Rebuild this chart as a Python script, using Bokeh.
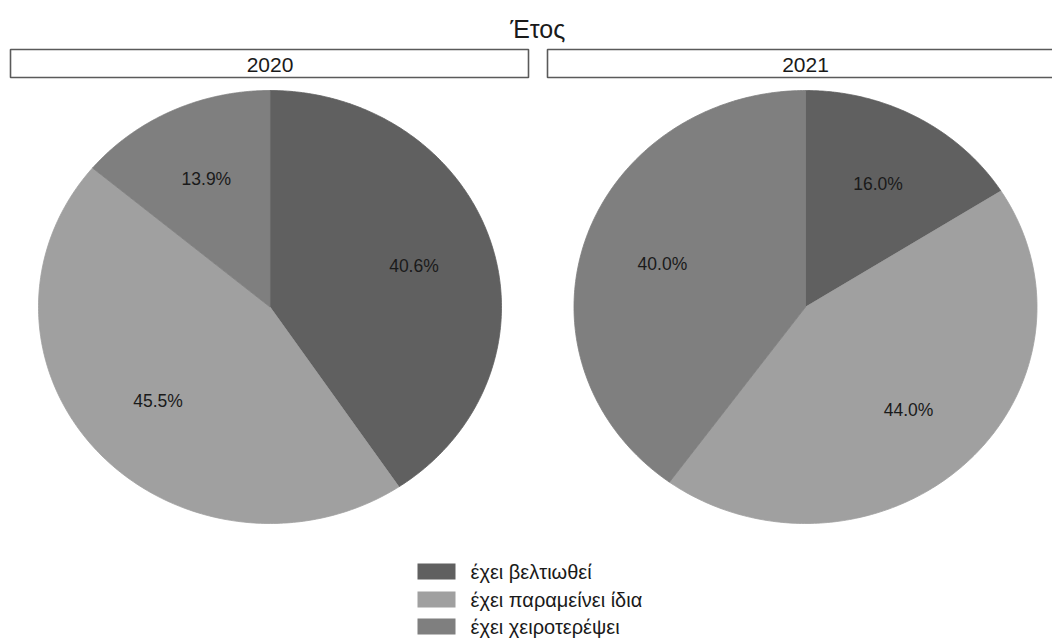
import numpy as np
from bokeh.plotting import figure
from bokeh.models import Range1d
from bokeh.core.properties import value
from bokeh.embed import file_html
from bokeh.resources import INLINE

# ---- data ----
facet_title = "Έτος"
years = ["2020", "2021"]
categories = ["έχει βελτιωθεί", "έχει παραμείνει ίδια", "έχει χειροτερέψει"]
values_2020 = [40.6, 45.5, 13.9]
values_2021 = [16.0, 44.0, 40.0]
series = [values_2020, values_2021]
colors = ["#606060", "#a0a0a0", "#7f7f7f"]

# ---- layout (pixels) ----
W, H = 1052, 639
FONT = value("Liberation Sans")
centers_x = [269.5, 805.0]
center_y = 306.5
rx, ry = 231.5, 216.5
strip_left = [10, 547]
strip_right = [528, 1065]
strip_top, strip_bottom = 49, 77
label_r = 0.65

p = figure(width=W, height=H, x_range=Range1d(0, W), y_range=Range1d(H, 0),
           output_backend="svg", toolbar_location=None, min_border=0,
           x_axis_location=None, y_axis_location=None)
p.grid.visible = False
p.outline_line_color = None
p.background_fill_color = "white"
p.border_fill_color = "white"

# pie slices: one renderer per category across both years
label_x, label_y, label_t = [], [], []
slice_xs = {c: [] for c in categories}
slice_ys = {c: [] for c in categories}
for yi, vals in enumerate(series):
    vals = np.asarray(vals, dtype=float)
    frac = vals / vals.sum()
    ends = np.cumsum(frac)
    starts = ends - frac
    cx = centers_x[yi]
    for ci, cat in enumerate(categories):
        t = np.linspace(starts[ci], ends[ci], 200) * 2 * np.pi
        xs = np.concatenate([[cx], cx + rx * np.sin(t), [cx]])
        ys = np.concatenate([[center_y], center_y - ry * np.cos(t), [center_y]])
        slice_xs[cat].append(xs.tolist())
        slice_ys[cat].append(ys.tolist())
        mid = (starts[ci] + ends[ci]) / 2 * 2 * np.pi
        label_x.append(cx + label_r * rx * np.sin(mid))
        label_y.append(center_y - label_r * ry * np.cos(mid))
        label_t.append(f"{vals[ci]:.1f}%")

for ci, cat in enumerate(categories):
    p.patches(xs=slice_xs[cat], ys=slice_ys[cat], fill_color=colors[ci],
              line_color=colors[ci], line_width=0.8)

p.text(x=label_x, y=label_y, text=label_t, text_font=FONT, text_font_size="17.5px",
       text_align="center", text_baseline="middle", text_color="#1a1a1a")

# strips
p.quad(left=strip_left, right=strip_right, top=[strip_top] * 2, bottom=[strip_bottom] * 2,
       fill_color="white", line_color="#5a5a5a", line_width=1.6)
p.text(x=centers_x, y=[(strip_top + strip_bottom) / 2 + 1] * 2, text=years, text_font=FONT,
       text_font_size="21px", text_align="center", text_baseline="middle", text_color="#1a1a1a")

# facet title
p.text(x=[sum(centers_x) / 2], y=[28], text=[facet_title], text_font=FONT,
       text_font_size="25px", text_align="center", text_baseline="middle", text_color="#1a1a1a")

# legend
leg_y = [571, 599, 626]
p.rect(x=[436] * 3, y=leg_y, width=38, height=16, fill_color=colors, line_color=None)
p.text(x=[470] * 3, y=leg_y, text=categories, text_font=FONT, text_font_size="20px",
       text_align="left", text_baseline="middle", text_color="#1a1a1a")

open("out.html", "w").write(file_html(p, INLINE))
